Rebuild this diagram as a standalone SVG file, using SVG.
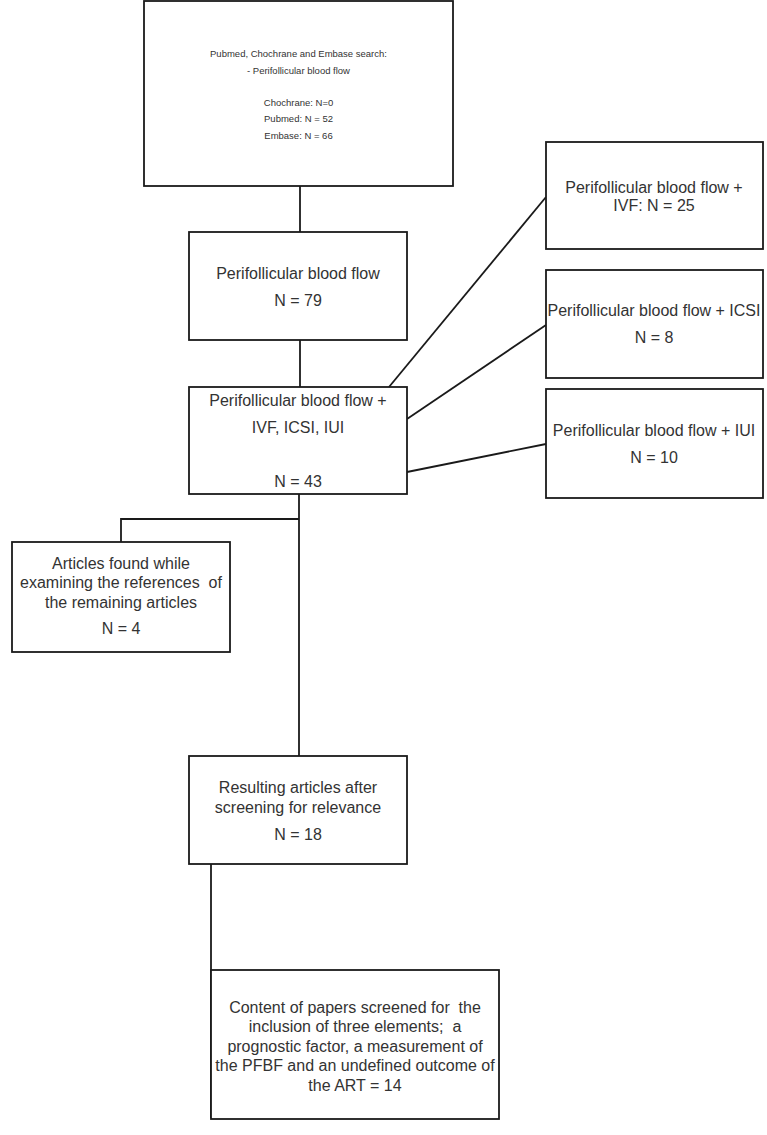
<svg xmlns="http://www.w3.org/2000/svg" width="767" height="1135" viewBox="0 0 767 1135">
<style>
.box{fill:#fff;stroke:#1a1a1a;stroke-width:1.8}
.ln{fill:none;stroke:#1a1a1a;stroke-width:1.8}
text{font-family:"Liberation Sans",Arial,sans-serif;font-size:16px;fill:#333;text-anchor:middle;white-space:pre}
.sm{font-size:9.5px}
</style>
<rect width="767" height="1135" fill="#fff"/>
<g id="connectors">
<line class="ln" x1="300" y1="186" x2="300" y2="232"/>
<line class="ln" x1="300" y1="340" x2="300" y2="387"/>
<line class="ln" x1="389" y1="387" x2="546" y2="197"/>
<line class="ln" x1="407" y1="419" x2="546" y2="325"/>
<line class="ln" x1="407" y1="472" x2="546" y2="444"/>
<line class="ln" x1="299" y1="494" x2="299" y2="756"/>
<polyline class="ln" points="299,519 121,519 121,542"/>
<line class="ln" x1="211" y1="864" x2="211" y2="1118"/>
</g>
<g id="n-search">
<rect class="box" x="144" y="1" width="309" height="185"/>
<text class="sm" x="298.5" y="56.5">Pubmed, Chochrane and Embase search:</text>
<text class="sm" x="298.5" y="73.5">- Perifollicular blood flow</text>
<text class="sm" x="298.5" y="105.5">Chochrane: N=0</text>
<text class="sm" x="298.5" y="121.5">Pubmed: N = 52</text>
<text class="sm" x="298.5" y="138.5">Embase: N = 66</text>
</g>
<g id="n-pfbf">
<rect class="box" x="189" y="232" width="218" height="108"/>
<text x="298" y="278.5">Perifollicular blood flow</text>
<text x="298" y="305.5">N = 79</text>
</g>
<g id="n-pfbf-art">
<rect class="box" x="189" y="387" width="218" height="107"/>
<text x="298" y="405.5">Perifollicular blood flow +</text>
<text x="298" y="432.5">IVF, ICSI, IUI</text>
<text x="298" y="486.5">N = 43</text>
</g>
<g id="n-ivf">
<rect class="box" x="546" y="142" width="217" height="107"/>
<text x="654" y="192.5">Perifollicular blood flow +</text>
<text x="654" y="210.5">IVF: N = 25</text>
</g>
<g id="n-icsi">
<rect class="box" x="546" y="270" width="217" height="108"/>
<text x="654" y="315.5">Perifollicular blood flow + ICSI</text>
<text x="654" y="342.5">N = 8</text>
</g>
<g id="n-iui">
<rect class="box" x="546" y="389" width="217" height="109"/>
<text x="654" y="435.5">Perifollicular blood flow + IUI</text>
<text x="654" y="462.5">N = 10</text>
</g>
<g id="n-refs">
<rect class="box" x="12" y="542" width="218" height="110"/>
<text x="121" y="568.5">Articles found while</text>
<text x="121" y="587.5">examining the references  of</text>
<text x="121" y="607.5">the remaining articles</text>
<text x="121" y="633.5">N = 4</text>
</g>
<g id="n-result">
<rect class="box" x="189" y="756" width="218" height="108"/>
<text x="298" y="792.5">Resulting articles after</text>
<text x="298" y="812.5">screening for relevance</text>
<text x="298" y="839.5">N = 18</text>
</g>
<g id="n-content">
<rect class="box" x="211" y="970" width="288" height="149"/>
<text x="355" y="1012.5">Content of papers screened for  the</text>
<text x="355" y="1031.5">inclusion of three elements;  a</text>
<text x="355" y="1051.5">prognostic factor, a measurement of</text>
<text x="355" y="1070.5">the PFBF and an undefined outcome of</text>
<text x="355" y="1090.5">the ART = 14</text>
</g>
</svg>
